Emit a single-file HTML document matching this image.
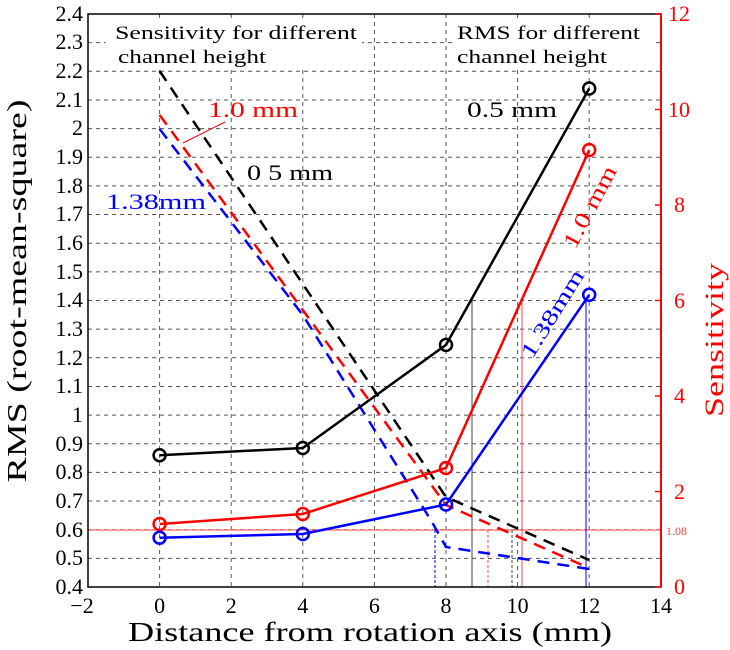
<!DOCTYPE html>
<html><head><meta charset="utf-8"><style>body{margin:0;background:#fff}svg{display:block}text{font-family:"Liberation Serif",serif}</style></head><body>
<svg width="730" height="650" xmlns="http://www.w3.org/2000/svg">
<rect width="730" height="650" fill="#fff"/>
<g stroke="#555" stroke-width="1" stroke-dasharray="4,4">
<line x1="88" y1="558.35" x2="661" y2="558.35"/><line x1="88" y1="529.7" x2="661" y2="529.7"/><line x1="88" y1="501.05" x2="661" y2="501.05"/><line x1="88" y1="472.4" x2="661" y2="472.4"/><line x1="88" y1="443.75" x2="661" y2="443.75"/><line x1="88" y1="415.1" x2="661" y2="415.1"/><line x1="88" y1="386.45" x2="661" y2="386.45"/><line x1="88" y1="357.8" x2="661" y2="357.8"/><line x1="88" y1="329.15" x2="661" y2="329.15"/><line x1="88" y1="300.5" x2="661" y2="300.5"/><line x1="88" y1="271.85" x2="661" y2="271.85"/><line x1="88" y1="243.2" x2="661" y2="243.2"/><line x1="88" y1="214.55" x2="661" y2="214.55"/><line x1="88" y1="185.9" x2="661" y2="185.9"/><line x1="88" y1="157.25" x2="661" y2="157.25"/><line x1="88" y1="128.6" x2="661" y2="128.6"/><line x1="88" y1="99.95" x2="661" y2="99.95"/><line x1="88" y1="71.3" x2="661" y2="71.3"/><line x1="88" y1="42.65" x2="661" y2="42.65"/>
<line x1="159.6" y1="14" x2="159.6" y2="587"/><line x1="231.2" y1="14" x2="231.2" y2="587"/><line x1="302.8" y1="14" x2="302.8" y2="587"/><line x1="374.4" y1="14" x2="374.4" y2="587"/><line x1="446" y1="14" x2="446" y2="587"/><line x1="517.6" y1="14" x2="517.6" y2="587"/><line x1="589.2" y1="14" x2="589.2" y2="587"/>
</g>
<rect x="106" y="18" width="256" height="52" fill="#fff"/>
<rect x="454" y="18" width="200" height="52" fill="#fff"/>
<text x="115" y="39" font-size="19" textLength="242" lengthAdjust="spacingAndGlyphs">Sensitivity for different</text>
<text x="118" y="63" font-size="19" textLength="148" lengthAdjust="spacingAndGlyphs">channel height</text>
<text x="457" y="39" font-size="19" textLength="183" lengthAdjust="spacingAndGlyphs">RMS for different</text>
<text x="457" y="63" font-size="19" textLength="150" lengthAdjust="spacingAndGlyphs">channel height</text>
<line x1="88" y1="530" x2="661" y2="530" stroke="#f44" stroke-width="1"/>
<line x1="472" y1="298" x2="472" y2="587" stroke="#444" stroke-width="1"/>
<line x1="522" y1="299" x2="522" y2="587" stroke="#f44" stroke-width="1"/>
<line x1="586" y1="300" x2="586" y2="587" stroke="#00f" stroke-width="1"/>
<line x1="435" y1="530" x2="435" y2="587" stroke="#00f" stroke-width="1" stroke-dasharray="3,2"/>
<line x1="488" y1="530" x2="488" y2="587" stroke="#f44" stroke-width="1" stroke-dasharray="3,2"/>
<line x1="512" y1="530" x2="512" y2="587" stroke="#444" stroke-width="1" stroke-dasharray="3,2"/>
<g fill="none" stroke-width="2.5" stroke-dasharray="12,8">
<polyline points="159.6,71 446,497 589,560" stroke="#000"/>
<polyline points="159.6,115 446,505 589,568" stroke="#f00"/>
<polyline points="159.6,129 302.8,315 432,522 446,547 589,569" stroke="#00f"/>
</g>
<line x1="183" y1="143" x2="225" y2="122" stroke="#f00" stroke-width="1"/>
<g fill="none" stroke-width="2.5">
<polyline points="159.6,455.2 302.8,448 446,344.9 589.2,88.5" stroke="#000"/>
<polyline points="159.6,524 302.8,514 446,468 589.2,150" stroke="#f00"/>
<polyline points="159.6,537.7 302.8,534 446,504.5 589.2,294.8" stroke="#00f"/>
</g>
<g fill="none" stroke-width="2.5">
<circle cx="159.6" cy="455.2" r="6" stroke="#000"/><circle cx="302.8" cy="448" r="6" stroke="#000"/><circle cx="446" cy="344.9" r="6" stroke="#000"/><circle cx="589.2" cy="88.5" r="6" stroke="#000"/>
<circle cx="159.6" cy="524" r="6" stroke="#f00"/><circle cx="302.8" cy="514" r="6" stroke="#f00"/><circle cx="446" cy="468" r="6" stroke="#f00"/><circle cx="589.2" cy="150" r="6" stroke="#f00"/>
<circle cx="159.6" cy="537.7" r="6" stroke="#00f"/><circle cx="302.8" cy="534" r="6" stroke="#00f"/><circle cx="446" cy="504.5" r="6" stroke="#00f"/><circle cx="589.2" cy="294.8" r="6" stroke="#00f"/>
</g>
<text x="208" y="117" font-size="22" fill="#f00" textLength="90" lengthAdjust="spacingAndGlyphs">1.0 mm</text>
<text x="247" y="180" font-size="22" fill="#000" textLength="86" lengthAdjust="spacingAndGlyphs">0 5 mm</text>
<text x="106" y="209" font-size="22" fill="#00f" textLength="100" lengthAdjust="spacingAndGlyphs">1.38mm</text>
<text x="467" y="117" font-size="22" fill="#000" textLength="90" lengthAdjust="spacingAndGlyphs">0.5 mm</text>
<text transform="translate(575,250) rotate(-62)" font-size="22" fill="#f00" textLength="90" lengthAdjust="spacingAndGlyphs">1.0 mm</text>
<text transform="translate(532,360) rotate(-58)" font-size="22" fill="#00f" textLength="100" lengthAdjust="spacingAndGlyphs">1.38mm</text>
<rect x="88" y="14" width="573" height="573" fill="none" stroke="#000" stroke-width="1.5"/>
<line x1="661" y1="14" x2="661" y2="587" stroke="#f00" stroke-width="2"/>
<g stroke="#f00" stroke-width="1.5">
<line x1="655" y1="587" x2="661" y2="587"/><line x1="655" y1="491.5" x2="661" y2="491.5"/><line x1="655" y1="396" x2="661" y2="396"/><line x1="655" y1="300.5" x2="661" y2="300.5"/><line x1="655" y1="205" x2="661" y2="205"/><line x1="655" y1="109.5" x2="661" y2="109.5"/><line x1="655" y1="14" x2="661" y2="14"/>
</g>
<g font-size="22" text-anchor="end" fill="#000">
<text x="83" y="594">0.4</text><text x="83" y="565">0.5</text><text x="83" y="537">0.6</text><text x="83" y="508">0.7</text><text x="83" y="479">0.8</text><text x="83" y="451">0.9</text><text x="83" y="422">1</text><text x="83" y="393">1.1</text><text x="83" y="365">1.2</text><text x="83" y="336">1.3</text><text x="83" y="307">1.4</text><text x="83" y="279">1.5</text><text x="83" y="250">1.6</text><text x="83" y="221">1.7</text><text x="83" y="193">1.8</text><text x="83" y="164">1.9</text><text x="83" y="135">2</text><text x="83" y="107">2.1</text><text x="83" y="78">2.2</text><text x="83" y="49">2.3</text><text x="83" y="21">2.4</text>
</g>
<g font-size="22" text-anchor="middle" fill="#000">
<text x="82" y="613">−2</text><text x="159.6" y="613">0</text><text x="231.2" y="613">2</text><text x="302.8" y="613">4</text><text x="374.4" y="613">6</text><text x="446" y="613">8</text><text x="517.6" y="613">10</text><text x="589.2" y="613">12</text><text x="661" y="613">14</text>
</g>
<g font-size="22" fill="#f00">
<text x="674" y="594">0</text><text x="674" y="499">2</text><text x="674" y="403">4</text><text x="674" y="308">6</text><text x="674" y="212">8</text><text x="668" y="117">10</text><text x="668" y="21">12</text>
</g>
<text x="666" y="535" font-size="12" fill="#f44">1.08</text>
<text x="370" y="641" font-size="27" text-anchor="middle" textLength="484" lengthAdjust="spacingAndGlyphs">Distance from rotation axis (mm)</text>
<text transform="translate(26,291) rotate(-90)" font-size="27" text-anchor="middle" textLength="383" lengthAdjust="spacingAndGlyphs">RMS (root-mean-square)</text>
<text transform="translate(723,340) rotate(-90)" font-size="26" text-anchor="middle" fill="#f00" textLength="154" lengthAdjust="spacingAndGlyphs">Sensitivity</text>
</svg>
</body></html>
